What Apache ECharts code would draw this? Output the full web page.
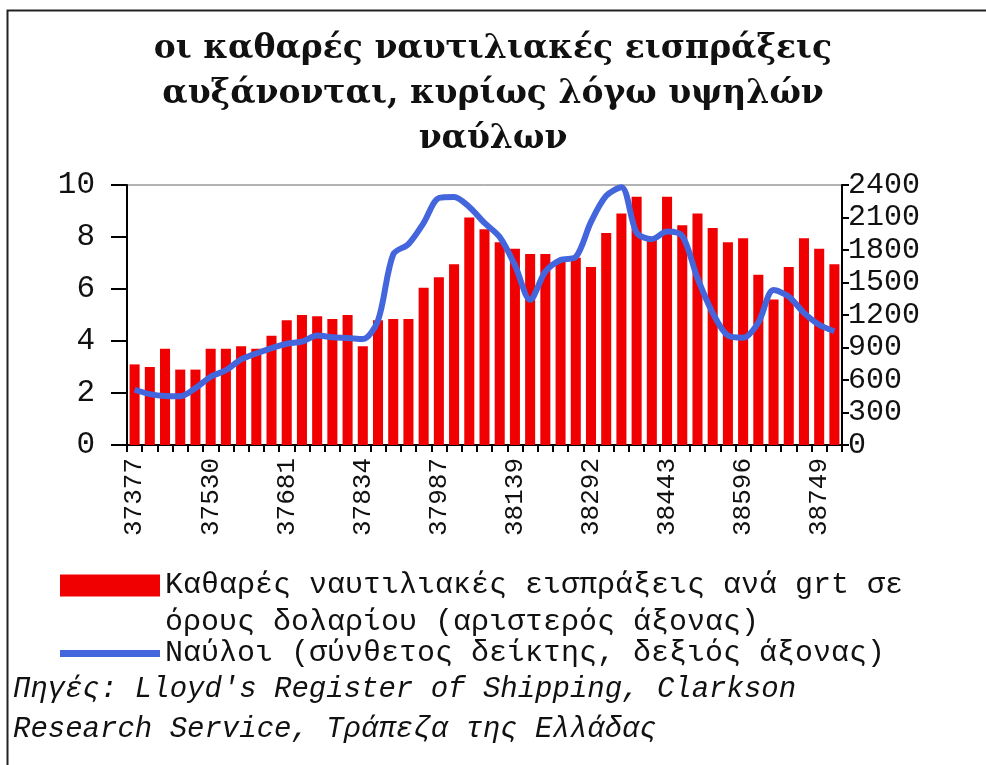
<!DOCTYPE html>
<html>
<head>
<meta charset="utf-8">
<script src="https://cdn.jsdelivr.net/npm/echarts/dist/echarts.min.js"></script>
<style>
html,body{margin:0;padding:0;background:#fff;}
#chart{width:986px;height:765px;}
</style>
</head>
<body>
<div id="chart"></div>
<script>
// Monthly categories (Excel date serials), May 2002 – Mar 2006
const categories = ['37377','37408','37438','37469','37500','37530','37561','37591','37622','37653',
  '37681','37712','37742','37773','37803','37834','37865','37895','37926','37956',
  '37987','38018','38047','38078','38108','38139','38169','38200','38231','38261',
  '38292','38322','38353','38384','38412','38443','38473','38504','38534','38565',
  '38596','38626','38657','38687','38718','38749','38777'];

// Net shipping receipts per grt in dollar terms (left axis)
const receipts = [3.1,3.0,3.7,2.9,2.9,3.7,3.7,3.8,3.7,4.2,
  4.8,5.0,4.95,4.85,5.0,3.8,4.8,4.85,4.85,6.05,
  6.45,6.95,8.75,8.3,7.8,7.55,7.35,7.35,7.1,7.2,
  6.85,8.15,8.9,9.55,7.9,9.55,8.45,8.9,8.35,7.8,
  7.95,6.55,5.6,6.85,7.95,7.55,6.95];

// Freight rates composite index (right axis)
const freight = [510,470,452,450,525,630,690,790,845,895,
  935,955,1010,995,988,978,1150,1760,1855,2050,
  2280,2290,2197,2050,1920,1660,1340,1600,1708,1735,
  2060,2300,2380,1960,1900,1970,1930,1540,1220,1010,
  990,1130,1430,1370,1220,1110,1050];

const leftTicks = {min:0, max:10, interval:2};
const rightTicks = {min:0, max:2400, interval:300};

const barName = 'Καθαρές ναυτιλιακές εισπράξεις ανά grt σε\nόρους δολαρίου (αριστερός άξονας)';
const lineName = 'Ναύλοι (σύνθετος δείκτης, δεξιός άξονας)';

const chart = echarts.init(document.getElementById('chart'), null, {renderer:'canvas'});
const monoFont = "'Liberation Mono', 'DejaVu Sans Mono', monospace";

chart.setOption({
  backgroundColor:'#ffffff',
  animation:false,
  title:[{
    text:'οι καθαρές ναυτιλιακές εισπράξεις\nαυξάνονται, κυρίως λόγω υψηλών\nναύλων',
    left:'center', top:22,
    textStyle:{fontFamily:"'DejaVu Serif', serif", fontWeight:'bold', fontSize:33, lineHeight:45, color:'#111'}
  },{
    text:"Πηγές: Lloyd's Register of Shipping, Clarkson\nResearch Service, Τράπεζα της Ελλάδας",
    left:8, top:664,
    textStyle:{fontFamily:monoFont, fontStyle:'italic', fontWeight:'normal', fontSize:29, lineHeight:40, color:'#111'}
  }],
  legend:[{
    data:[{name:barName, icon:'rect'}],
    left:55, top:525, orient:'vertical',
    itemWidth:100, itemHeight:22,
    formatter:function(n){return '\n'+n;},
    textStyle:{fontFamily:monoFont, fontSize:30, lineHeight:37, color:'#111'}
  },{
    data:[{name:lineName, icon:'rect', itemStyle:{color:'#4466dd'}}],
    left:55, top:630, orient:'vertical',
    itemWidth:100, itemHeight:7,
    textStyle:{fontFamily:monoFont, fontSize:30, lineHeight:37, color:'#111'}
  }],
  grid:{left:127, right:144, top:185, bottom:320, show:true, borderColor:'#666', borderWidth:1, containLabel:false},
  xAxis:{
    type:'category', data:categories, boundaryGap:true,
    axisLine:{lineStyle:{color:'#000', width:2}},
    axisTick:{show:true, interval:0, length:7, lineStyle:{color:'#000', width:2}},
    axisLabel:{interval:4, rotate:90, margin:13, fontFamily:monoFont, fontSize:26, color:'#111'}
  },
  yAxis:[{
    type:'value', min:leftTicks.min, max:leftTicks.max, interval:leftTicks.interval,
    position:'left',
    axisLine:{show:true, lineStyle:{color:'#000', width:2}},
    axisTick:{show:true, length:16, lineStyle:{color:'#000', width:2}},
    splitLine:{show:false},
    axisLabel:{margin:32, fontFamily:monoFont, fontSize:31, color:'#111'}
  },{
    type:'value', min:rightTicks.min, max:rightTicks.max, interval:rightTicks.interval,
    position:'right',
    axisLine:{show:true, lineStyle:{color:'#000', width:2}},
    axisTick:{show:true, length:7, lineStyle:{color:'#000', width:2}},
    splitLine:{show:false},
    axisLabel:{margin:6, fontFamily:monoFont, fontSize:30, color:'#111', formatter:function(v){return String(v);}}
  }],
  series:[{
    name:barName, type:'bar', data:receipts, yAxisIndex:0,
    barWidth:'66%',
    itemStyle:{color:'#f00000'}
  },{
    name:lineName, type:'line', data:freight, yAxisIndex:1,
    symbol:'none', smooth:0.3,
    lineStyle:{color:'#4466dd', width:6},
    itemStyle:{color:'#4466dd'}
  }],
  graphic:[{
    type:'rect', left:5, top:8, silent:true,
    shape:{x:0, y:0, width:1200, height:1000},
    style:{fill:'none', stroke:'#222', lineWidth:2}
  }]
});
</script>
</body>
</html>
